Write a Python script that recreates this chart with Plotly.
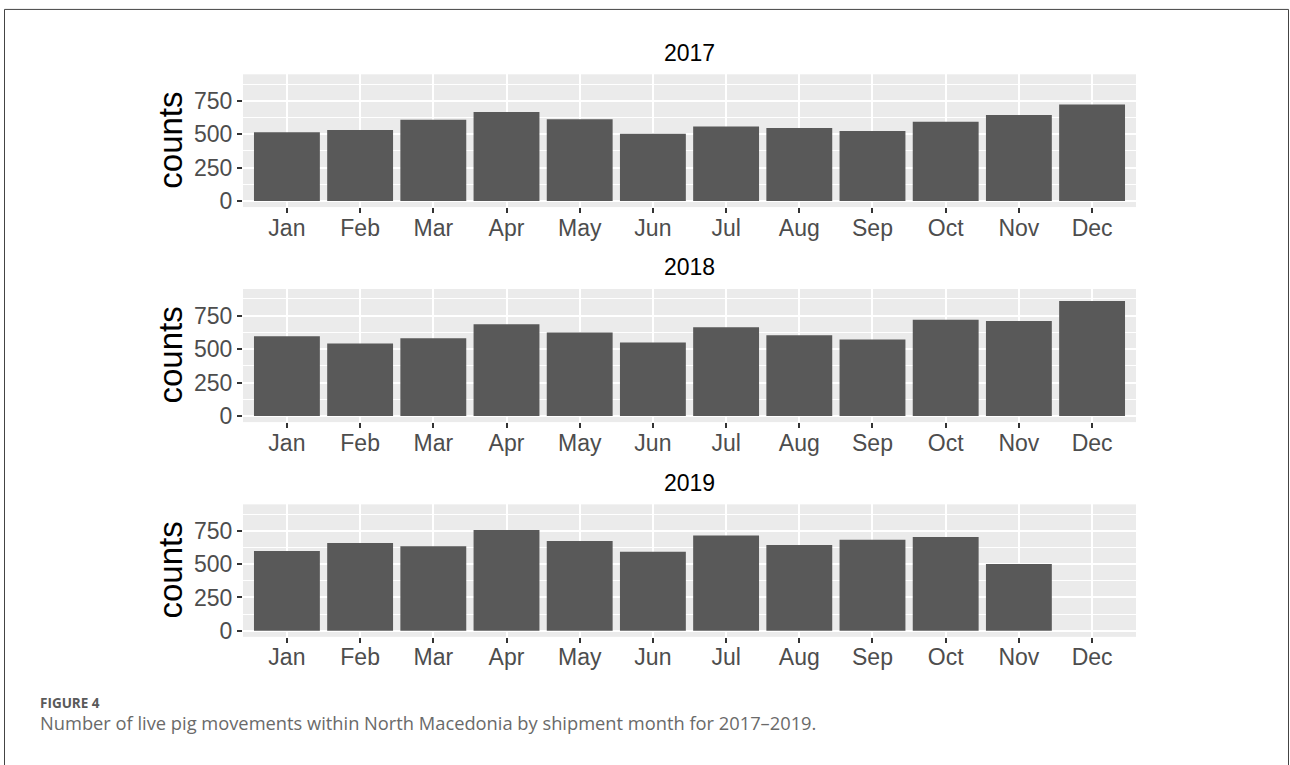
import plotly.graph_objects as go

# ---- data ----
months = ["Jan", "Feb", "Mar", "Apr", "May", "Jun", "Jul", "Aug", "Sep", "Oct", "Nov", "Dec"]
years = ["2017", "2018", "2019"]
counts_2017 = [515, 532, 609, 666, 612, 504, 557, 547, 524, 594, 644, 723]
counts_2018 = [596, 542, 581, 685, 623, 549, 662, 603, 571, 719, 710, 858]
counts_2019 = [599, 658, 633, 756, 673, 592, 714, 643, 683, 703, 500, None]
y_ticks = [0, 250, 500, 750]
y_title = "counts"
caption_label = "FIGURE 4"
caption_text = "Number of live pig movements within North Macedonia by shipment month for 2017\u20132019."

series = [counts_2017, counts_2018, counts_2019]

W, H = 1290, 765
def px_x(p):
    return p / W
def px_y(p):
    return 1 - p / H

panel_left, panel_right = 243, 1136
panels = [(75, 209), (291.7, 426), (509, 642.7)]

fig = go.Figure()
annotations = []
for i, (yr, vals) in enumerate(zip(years, series)):
    n = i + 1
    xa = "x" if n == 1 else f"x{n}"
    ya = "y" if n == 1 else f"y{n}"
    fig.add_trace(go.Bar(
        x=months, y=vals, xaxis=xa, yaxis=ya,
        marker=dict(color="#595959", line=dict(width=0)),
        width=0.9, showlegend=False, hoverinfo="x+y",
    ))
    top, bot = panels[i]
    xkey = "xaxis" if n == 1 else f"xaxis{n}"
    ykey = "yaxis" if n == 1 else f"yaxis{n}"
    fig.update_layout(**{
        xkey: dict(
            domain=[px_x(panel_left), px_x(panel_right)],
            anchor=ya, type="category", categoryorder="array", categoryarray=months,
            range=[-0.6, 11.6], showgrid=True, gridcolor="white", gridwidth=2,
            ticks="outside", ticklen=5, tickwidth=1.5, tickcolor="#333333",
            ticklabelstandoff=-5,
            tickfont=dict(family="Liberation Sans, Arial, sans-serif", size=23, color="#4D4D4D"),
            showline=False, zeroline=False, fixedrange=True,
        ),
        ykey: dict(
            domain=[px_y(bot), px_y(top)],
            anchor=xa, range=[-45, 948], tickvals=y_ticks,
            showgrid=True, gridcolor="white", gridwidth=2,
            minor=dict(tickvals=[125, 375, 625, 875], showgrid=True, gridcolor="white", gridwidth=1, ticks=""),
            ticks="outside", ticklen=5, tickwidth=1.5, tickcolor="#333333",
            tickfont=dict(family="Liberation Sans, Arial, sans-serif", size=23, color="#4D4D4D"),
            showline=False, zeroline=False, fixedrange=True,
        ),
    })
    annotations.append(dict(
        text=yr, x=px_x((panel_left + panel_right) / 2), y=px_y(top - 22),
        xref="paper", yref="paper", showarrow=False, xanchor="center", yanchor="middle",
        font=dict(family="Liberation Sans, Arial, sans-serif", size=23, color="black"),
    ))
    annotations.append(dict(
        text=y_title, x=px_x(171), y=px_y((top + bot) / 2),
        xref="paper", yref="paper", showarrow=False, xanchor="center", yanchor="middle",
        textangle=-90,
        font=dict(family="Liberation Sans, Arial, sans-serif", size=33, color="black"),
    ))

annotations.append(dict(
    text="<b>" + caption_label + "</b>", x=px_x(38), y=px_y(709), xref="paper", yref="paper",
    showarrow=False, xanchor="left", yanchor="middle",
    font=dict(family="Open Sans, sans-serif", size=13.5, color="#5a5a5a"),
))
annotations.append(dict(
    text=caption_text, x=px_x(38), y=px_y(729), xref="paper", yref="paper",
    showarrow=False, xanchor="left", yanchor="middle",
    font=dict(family="Open Sans, sans-serif", size=18.3, color="#6a6a6a"),
))

shapes = [dict(type="rect", xref="paper", yref="paper",
               x0=px_x(4.5), x1=px_x(1288.5), y0=px_y(780), y1=px_y(9.5),
               line=dict(color="#444444", width=1), fillcolor="rgba(0,0,0,0)", layer="above")]

fig.update_layout(
    width=W, height=H, autosize=False,
    margin=dict(l=0, r=0, t=0, b=0),
    paper_bgcolor="white", plot_bgcolor="#EBEBEB",
    bargap=0.1,
    annotations=annotations,
    shapes=shapes,
)

fig.write_html("out.html")
